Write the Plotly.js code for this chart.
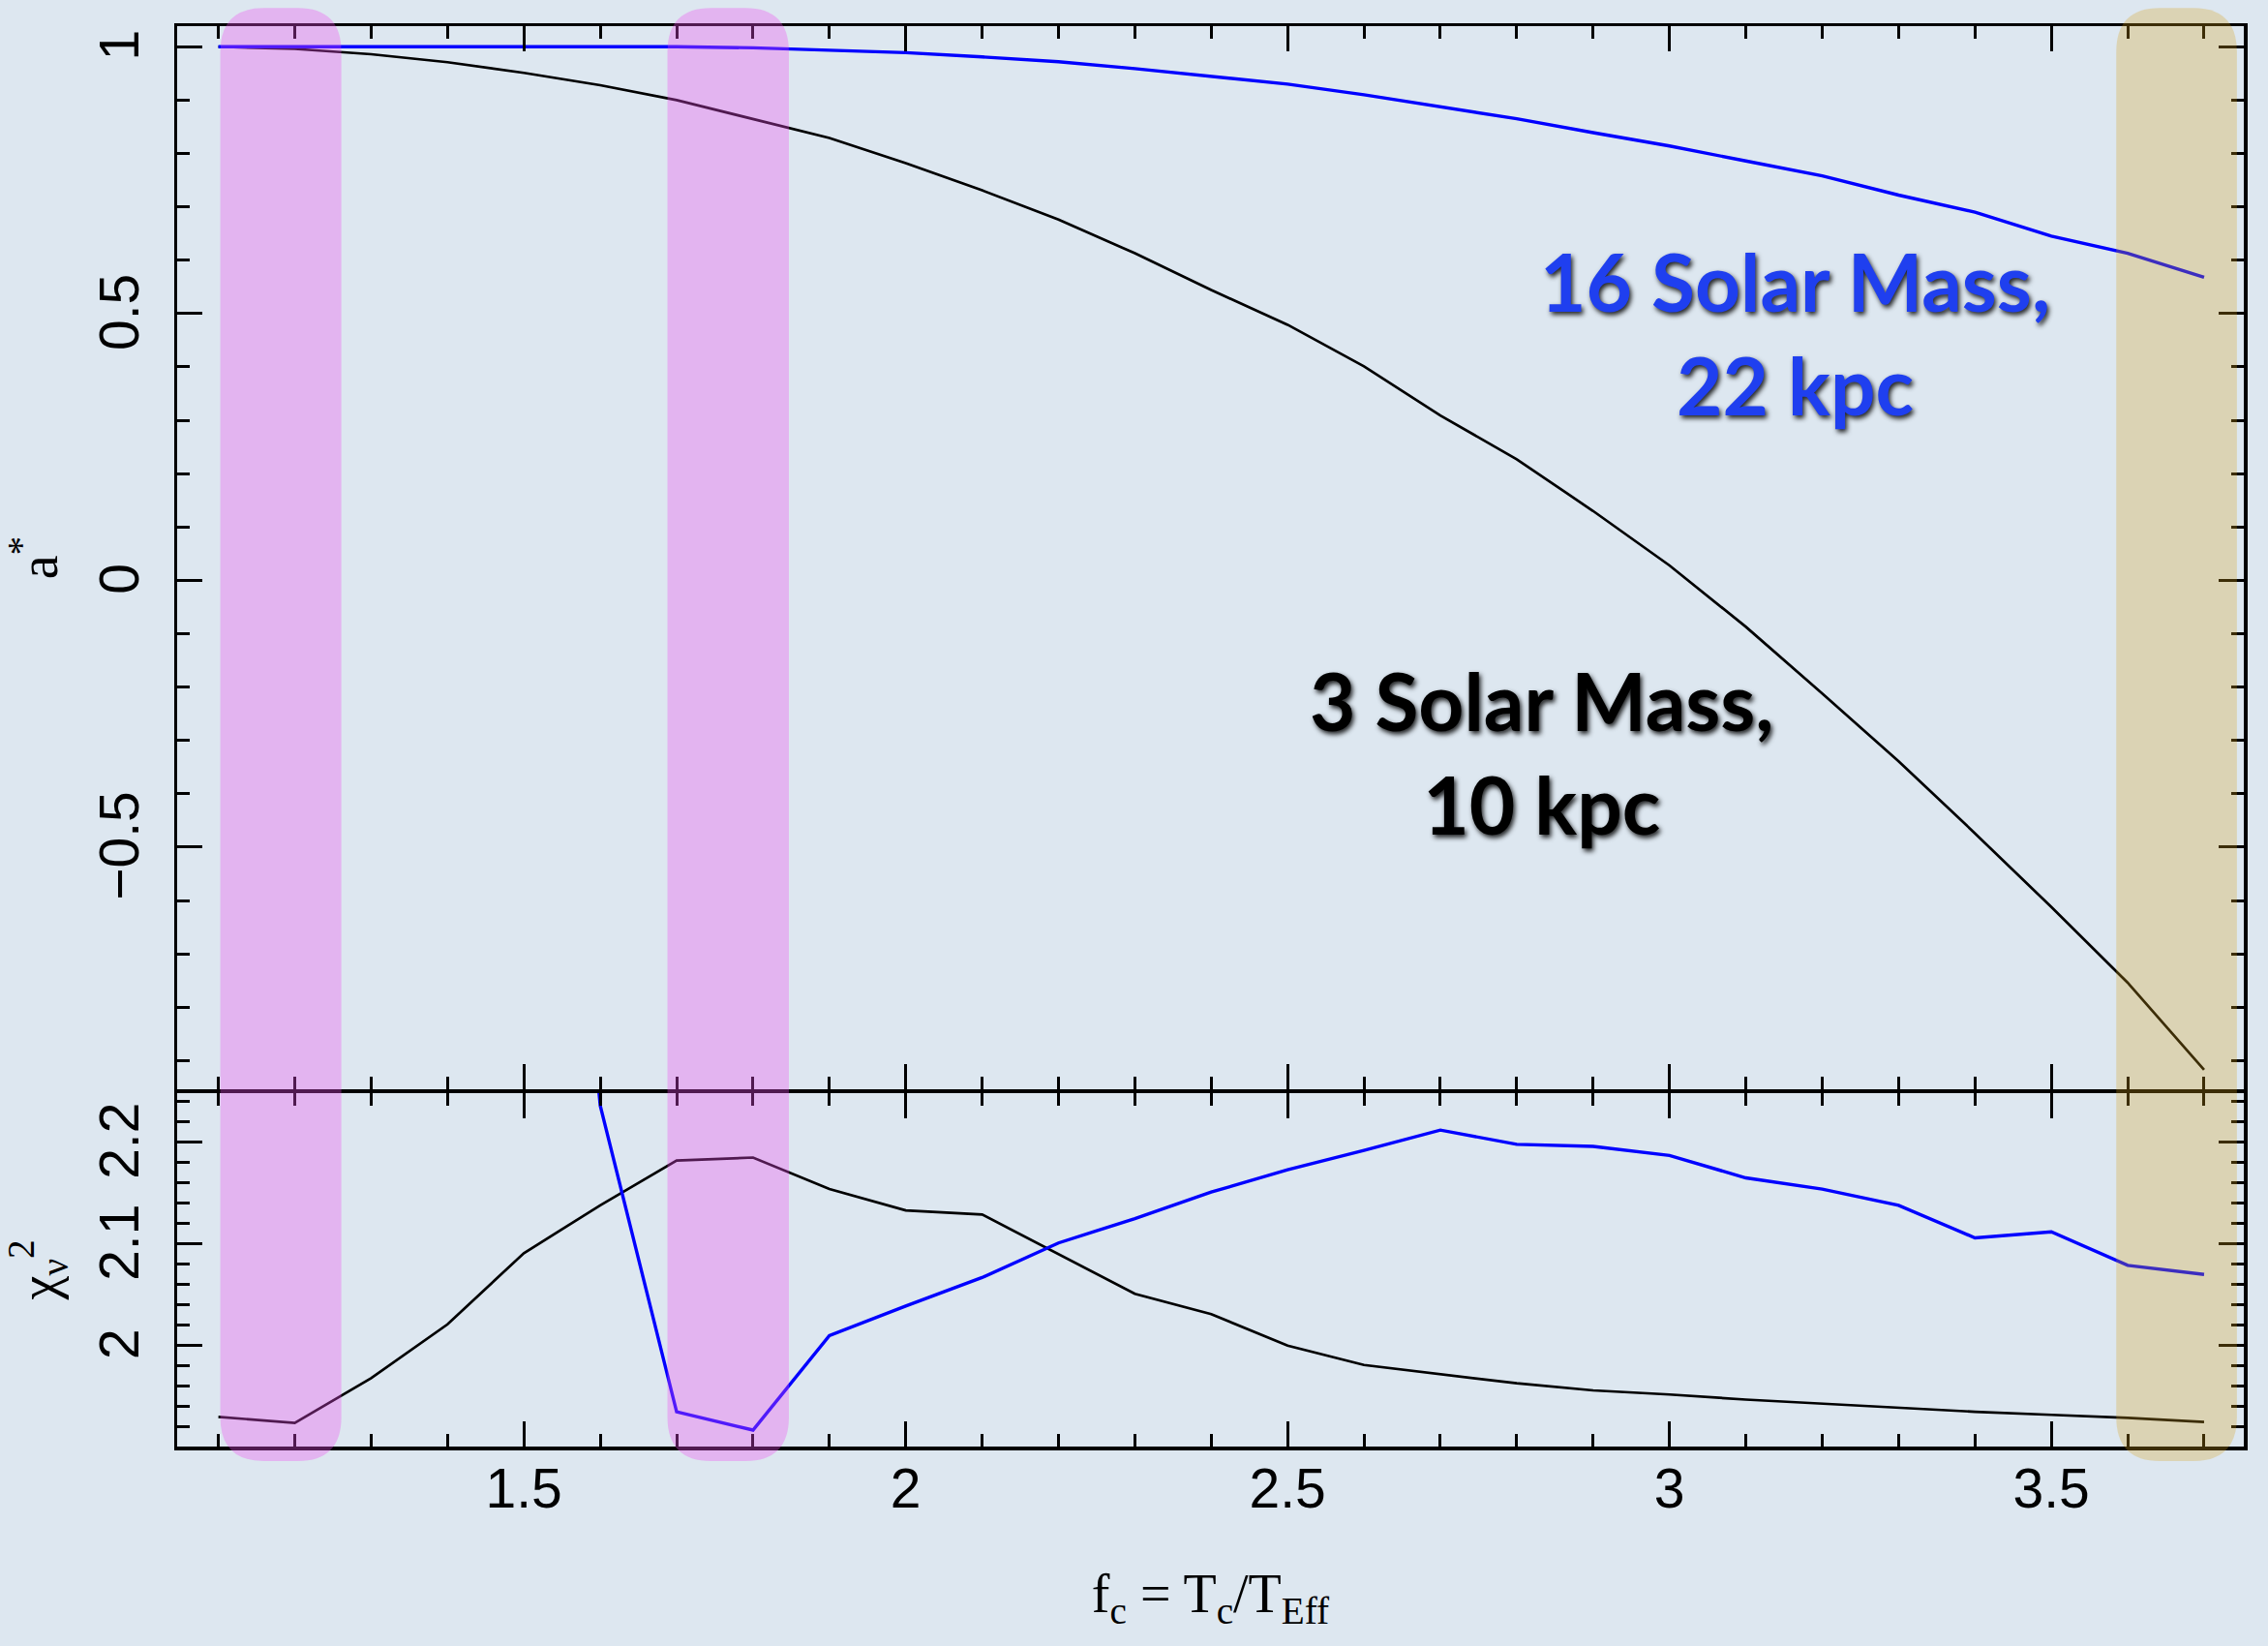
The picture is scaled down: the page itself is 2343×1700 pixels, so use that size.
<!DOCTYPE html>
<html>
<head>
<meta charset="utf-8">
<script src="https://cdn.plot.ly/plotly-3.0.1.min.js"></script>
<style>
  html, body { margin: 0; padding: 0; background: #DDE7F0; }
  #chart { width: 2343px; height: 1700px; }
</style>
</head>
<body>
<div id="chart"></div>
<script>
// ---- data ----
var fc = [1.1, 1.2, 1.3, 1.4, 1.5, 1.6, 1.7, 1.8, 1.9, 2.0, 2.1, 2.2, 2.3, 2.4,
          2.5, 2.6, 2.7, 2.8, 2.9, 3.0, 3.1, 3.2, 3.3, 3.4, 3.5, 3.6, 3.7];

// a* (spin) for 3 solar mass, 10 kpc
var spin3 = [1.000, 0.996, 0.986, 0.971, 0.951, 0.928, 0.900, 0.864, 0.829, 0.782,
             0.731, 0.676, 0.613, 0.544, 0.479, 0.401, 0.309, 0.227, 0.130, 0.028,
             -0.087, -0.212, -0.339, -0.474, -0.612, -0.754, -0.917];
// a* for 16 solar mass, 22 kpc
var spin16 = [1.000, 1.000, 1.000, 1.000, 1.000, 1.000, 1.000, 0.998, 0.994, 0.989,
              0.981, 0.972, 0.959, 0.945, 0.930, 0.910, 0.888, 0.865, 0.839, 0.814,
              0.786, 0.758, 0.722, 0.690, 0.645, 0.613, 0.568];

// reduced chi-square
var chi3 = [1.930, 1.924, 1.968, 2.021, 2.091, 2.138, 2.182, 2.185, 2.154, 2.133,
            2.129, 2.090, 2.051, 2.031, 2.000, 1.981, 1.972, 1.963, 1.956, 1.952,
            1.947, 1.943, 1.939, 1.935, 1.932, 1.929, 1.925];
var chi16 = [null, null, null, null, 3.0, 2.236, 1.935, 1.917, 2.010, 2.039,
             2.067, 2.101, 2.125, 2.151, 2.173, 2.192, 2.212, 2.198, 2.196, 2.187,
             2.165, 2.154, 2.138, 2.106, 2.112, 2.079, 2.070];

// highlighted f_c ranges
var bandStart = [1.1025, 1.688, 3.585];
var bandEnd   = [1.261, 1.847, 3.743];
var bandColor = ['rgba(239,79,240,0.335)', 'rgba(239,79,240,0.335)', 'rgba(214,160,25,0.28)'];

// labels
var label16 = '16 Solar Mass,<br>22 kpc';
var label3 = '3 Solar Mass,<br>10 kpc';

// ---- figure ----
var BG = '#DDE7F0';
var tickFont = {family: 'Liberation Sans, Arial, sans-serif', size: 57, color: '#000'};
var titleFont = {family: 'Liberation Serif, Times New Roman, serif', size: 56, color: '#000'};

var traces = [
  {x: fc, y: spin3, xaxis: 'x', yaxis: 'y', mode: 'lines', line: {color: '#000000', width: 2.7}, name: '3 M☉'},
  {x: fc, y: spin16, xaxis: 'x', yaxis: 'y', mode: 'lines', line: {color: '#0000FF', width: 3.4}, name: '16 M☉'},
  {x: fc, y: chi3, xaxis: 'x2', yaxis: 'y2', mode: 'lines', line: {color: '#000000', width: 2.7}, name: '3 M☉', connectgaps: false},
  {x: fc, y: chi16, xaxis: 'x2', yaxis: 'y2', mode: 'lines', line: {color: '#0000FF', width: 3.4}, name: '16 M☉', connectgaps: false}
];

var rx = 0.057, ry = 0.031, yb = -0.0102, yt = 1.0127;
var shapes = bandStart.map(function (x0, i) {
  var x1 = bandEnd[i];
  var p = 'M ' + x0 + ',' + (yb + ry) +
          ' L ' + x0 + ',' + (yt - ry) +
          ' Q ' + x0 + ',' + yt + ' ' + (x0 + rx) + ',' + yt +
          ' L ' + (x1 - rx) + ',' + yt +
          ' Q ' + x1 + ',' + yt + ' ' + x1 + ',' + (yt - ry) +
          ' L ' + x1 + ',' + (yb + ry) +
          ' Q ' + x1 + ',' + yb + ' ' + (x1 - rx) + ',' + yb +
          ' L ' + (x0 + rx) + ',' + yb +
          ' Q ' + x0 + ',' + yb + ' ' + x0 + ',' + (yb + ry) + ' Z';
  return {type: 'path', path: p, xref: 'x', yref: 'paper', fillcolor: bandColor[i],
          line: {width: 0}, layer: 'above'};
});

function xAx(extra) {
  var a = {
    range: [1.046, 3.752], showgrid: false, zeroline: false,
    showline: true, linecolor: '#000', linewidth: 3.5, mirror: 'ticks',
    ticks: 'inside', ticklen: 26, tickwidth: 3, tickcolor: '#000',
    tick0: 0, dtick: 0.5, ticklabelstandoff: -9,
    minor: {ticks: 'inside', dtick: 0.1, tick0: 0, ticklen: 13, tickwidth: 3, tickcolor: '#000', showgrid: false},
    tickfont: tickFont
  };
  for (var k in extra) a[k] = extra[k];
  return a;
}
function yAx(extra) {
  var a = {
    showgrid: false, zeroline: false,
    showline: true, linecolor: '#000', linewidth: 3.5, mirror: 'ticks',
    ticks: 'inside', ticklen: 26, tickwidth: 3, tickcolor: '#000',
    tickangle: -90, tickfont: tickFont, ticklabelstandoff: 14, ticklabelshift: 7
  };
  for (var k in extra) a[k] = extra[k];
  return a;
}

var split = 0.2502, gap = 0.0012;
var layout = {
  width: 2343, height: 1700,
  paper_bgcolor: BG, plot_bgcolor: BG,
  margin: {l: 183, r: 25, t: 27, b: 206},
  showlegend: false,
  xaxis: xAx({anchor: 'y', showticklabels: false}),
  xaxis2: xAx({anchor: 'y2', matches: 'x',
    title: {text: 'f<sub>c</sub> = T<sub>c</sub>/T<sub>Eff</sub>', font: titleFont, standoff: 59}}),
  yaxis: yAx({domain: [split + gap, 1], range: [-0.954, 1.0386], tick0: 0, dtick: 0.5,
    minor: {ticks: 'inside', dtick: 0.1, tick0: 0, ticklen: 13, tickwidth: 3, tickcolor: '#000', showgrid: false},
    title: {text: 'a<sup>*</sup>', font: titleFont, standoff: 28}}),
  yaxis2: yAx({domain: [0, split - gap], range: [1.9008, 2.2486], tick0: 0, dtick: 0.1,
    minor: {ticks: 'inside', dtick: 0.02, tick0: 0, ticklen: 13, tickwidth: 3, tickcolor: '#000', showgrid: false},
    title: {text: 'χ<sub>ν</sub><sup>2</sup>', font: titleFont, standoff: 16}}),
  shapes: shapes,
  annotations: [
    {x: 3.165, y: 0.464, xref: 'x', yref: 'y', text: label16, showarrow: false,
     xanchor: 'center', yanchor: 'middle', align: 'center',
     font: {family: 'Lato, Noto Sans, sans-serif', size: 82, weight: 700, color: '#1F3FEF',
            shadow: '2px 3px 5px rgba(0,0,0,0.85)'}},
    {x: 2.833, y: -0.321, xref: 'x', yref: 'y', text: label3, showarrow: false,
     xanchor: 'center', yanchor: 'middle', align: 'center',
     font: {family: 'Lato, Noto Sans, sans-serif', size: 82, weight: 700, color: '#000000',
            shadow: '2px 3px 5px rgba(0,0,0,0.85)'}}
  ]
};

Plotly.newPlot('chart', traces, layout, {displayModeBar: false, staticPlot: true});
</script>
</body>
</html>
